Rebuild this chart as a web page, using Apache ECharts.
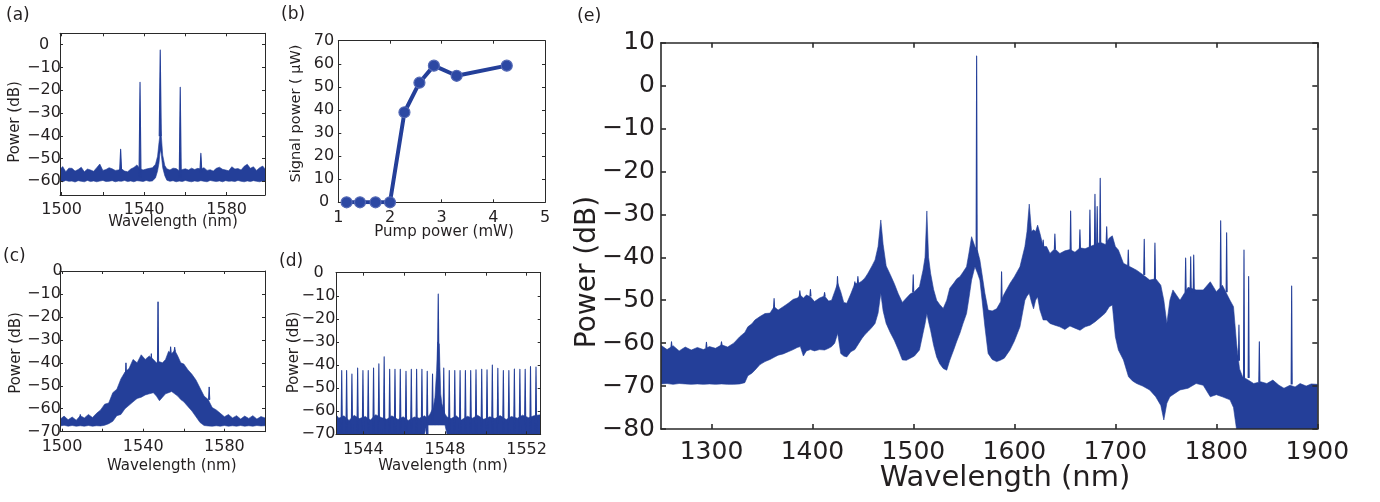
<!DOCTYPE html>
<html><head><meta charset="utf-8">
<script src="https://cdn.jsdelivr.net/npm/echarts@6/dist/echarts.min.js"></script>
<style>html,body{margin:0;padding:0;background:#fff}#c{width:1380px;height:502px}</style>
</head><body><div id="c"></div>
<script>
// ---------- DATA ----------
// (a) three-line spectrum: noise band envelope + discrete lines
const aWl = [1499,1500.5,1502,1503.5,1505,1506.5,1508,1509.5,1511,1512.5,1514,1515.5,1517,1518.5,1520,1521.5,1523,1524.5,1526,1527.5,1529,1530.5,1532,1533.5,1535,1536.5,1538,1539.5,1541,1542.5,1544,1545.5,1546.5,1547.2,1547.6,1548.0,1548.4,1549.0,1550,1551,1552.5,1554,1555.5,1557,1558.5,1560,1561.5,1563,1564.5,1566,1567.5,1569,1570.5,1572,1573.5,1575,1576.5,1578,1579.5,1581,1582.5,1584,1585.5,1587,1588.5,1590,1591.5,1593,1594.5,1596,1597.5,1599];
const aHi = [-55.0,-53.5,-55.8,-54.2,-54.3,-55.5,-54.8,-53.8,-55.8,-54.6,-55.0,-55.6,-54.0,-52.4,-55.2,-54.8,-54.0,-54.5,-55.2,-55.0,-54.5,-55.5,-55.8,-54.6,-53.9,-52.8,-54.5,-55.0,-54.6,-54.3,-54.0,-52.5,-49.0,-43.0,-40.0,-38.0,-41.0,-48.5,-53.0,-54.5,-55.0,-54.2,-54.4,-55.3,-54.8,-54.5,-55.0,-54.2,-54.8,-54.3,-54.6,-54.0,-55.2,-54.9,-55.5,-54.3,-53.8,-54.7,-55.0,-55.4,-53.6,-54.6,-54.4,-55.0,-53.4,-52.5,-54.3,-53.6,-55.2,-54.0,-53.3,-55.0];
const aLo = [-59.8,-60.2,-59.6,-60.0,-59.9,-60.3,-59.7,-60.0,-60.2,-59.6,-60.1,-59.8,-60.2,-59.9,-59.6,-60.1,-60.0,-59.7,-60.2,-59.9,-60.0,-59.6,-60.1,-59.8,-60.2,-59.7,-59.9,-60.1,-59.6,-60.0,-59.8,-58.5,-55.5,-52.0,-48.0,-46.0,-49.0,-54.0,-57.5,-59.5,-60.0,-59.7,-60.2,-59.9,-60.1,-59.6,-60.0,-60.2,-59.8,-60.1,-59.7,-60.0,-60.2,-59.6,-59.9,-60.1,-59.8,-60.2,-59.7,-60.0,-59.9,-60.1,-59.6,-60.0,-60.2,-59.8,-60.1,-59.7,-60.0,-60.2,-59.8,-60.0];
const aLineWl = [1528.6,1538.0,1547.8,1557.5,1567.5];
const aLineBase = [-56,-58,-40,-58,-56];
const aLineTop = [-45.9,-16.5,-2.3,-18.7,-47.7];
const aXTicks = [1500,1520,1540,1560,1580];
const aXLabels = [1500,1540,1580];
const aYTicks = [-60,-50,-40,-30,-20,-10,0];

// (b) signal power vs pump power
const bPump = [1.16,1.42,1.72,2.0,2.28,2.57,2.85,3.29,4.26];
const bSignal = [0,0,0,0,39,51.8,59.2,54.8,59.2];
const bXTicks = [1,2,3,4,5];
const bYTicks = [0,10,20,30,40,50,60,70];

// (c) broadband spectrum envelope
const cWl = [1499.2,1501,1503,1505,1507,1509,1511,1513,1515,1517,1519,1521,1523,1525,1527,1529,1531,1533,1535,1537,1539,1541,1543,1545,1546.5,1548,1549.5,1551,1552.5,1554,1555.5,1557,1558.5,1560,1562,1564,1566,1568,1570,1572,1574,1576,1578,1580,1582,1584,1586,1588,1590,1592,1594,1596,1598,1600];
const cHi = [-64.5,-63.2,-64.8,-63.6,-65.0,-63.0,-64.0,-62.5,-63.8,-62.0,-60.5,-58.0,-57.5,-53.0,-51.5,-47.0,-44.0,-42.5,-38.5,-40.0,-36.5,-38.5,-37.0,-38.5,-40.0,-39.5,-40.0,-38.5,-35.0,-36.0,-34.5,-37.0,-40.0,-40.5,-43.0,-45.0,-47.5,-51.0,-54.5,-56.0,-59.5,-60.5,-62.0,-63.5,-62.5,-64.0,-63.0,-64.5,-63.2,-64.2,-63.0,-64.5,-63.4,-64.0];
const cLo = [-67.5,-67.2,-67.6,-67.3,-67.6,-67.4,-67.6,-67.3,-67.6,-67.4,-67.5,-67.2,-66.5,-65.5,-63.0,-62.5,-60.0,-58.5,-57.0,-55.5,-55.0,-54.0,-53.5,-53.0,-54.5,-56.5,-55.0,-53.5,-53.0,-52.5,-53.5,-54.5,-56.0,-57.0,-59.0,-61.0,-63.5,-66.0,-67.3,-67.5,-67.6,-67.4,-67.6,-67.3,-67.6,-67.4,-67.6,-67.3,-67.6,-67.4,-67.6,-67.3,-67.5,-67.4];
const cLineWl = [1509,1531.5,1544,1547.3,1553.5,1555.5,1572.5];
const cLineBase = [-64,-46,-40,-40,-36,-35,-56];
const cLineTop = [-62.5,-40,-36,-13.4,-33,-33.2,-50.5];
const cXTicks = [1500,1520,1540,1560,1580,1600];
const cXLabels = [1500,1540,1580];
const cYTicks = [-70,-60,-50,-40,-30,-20,-10,0];

// (d) frequency comb: floor envelope + comb lines
const dWl = [1542.66,1542.8,1543.05,1543.3,1543.55,1543.8,1544.1,1544.35,1544.6,1544.9,1545.15,1545.4,1545.7,1545.95,1546.2,1546.5,1546.75,1547.0,1547.1,1547.25,1547.43,1547.51,1547.59,1547.64,1547.72,1547.79,1547.85,1548.0,1548.1,1548.3,1548.55,1548.8,1549.1,1549.35,1549.6,1549.9,1550.2,1550.45,1550.7,1551.0,1551.25,1551.55,1551.8,1552.1,1552.35,1552.69];
const dHi = [-61.5,-63.0,-62.0,-64.0,-61.8,-63.2,-62.3,-63.8,-61.5,-62.8,-63.5,-62.0,-63.6,-62.4,-64.0,-62.5,-63.0,-62.0,-62.8,-61.5,-58.3,-54.0,-42.4,-30.0,-30.9,-52.5,-56.8,-61.2,-62.5,-63.2,-62.0,-63.8,-62.2,-63.0,-61.8,-63.5,-62.4,-63.2,-61.9,-63.6,-62.3,-63.0,-61.7,-62.8,-62.0,-61.5];
const dLo = [-70,-70,-70,-70,-70,-70,-70,-70,-70,-70,-70,-70,-70,-70,-70,-70,-70,-70,-66,-66,-66,-66,-66,-66,-66,-66,-66,-66,-70,-70,-70,-70,-70,-70,-70,-70,-70,-70,-70,-70,-70,-70,-70,-70,-70,-70];
const dCombWl = [1542.66,1542.94,1543.18,1543.44,1543.72,1543.98,1544.24,1544.50,1544.76,1545.02,1545.29,1545.55,1545.81,1546.09,1546.35,1546.61,1546.87,1547.13,1547.39,1547.67,1547.94,1548.21,1548.48,1548.74,1549.00,1549.26,1549.52,1549.80,1550.06,1550.32,1550.59,1550.86,1551.13,1551.40,1551.67,1551.93,1552.19,1552.46];
const dCombTop = [-42.1,-42.4,-42.4,-43.9,-41.3,-42.4,-42.4,-41.3,-39.5,-36.4,-41.8,-41.8,-41.8,-42.7,-41.8,-41.8,-41.8,-42.7,-43.9,-9.2,-41.3,-42.4,-42.4,-42.4,-42.4,-42.4,-42.1,-41.8,-42.1,-40.0,-41.4,-42.4,-42.4,-41.7,-41.8,-41.8,-40.7,-40.9];
const dCombBase = [-70,-70,-70,-70,-70,-70,-70,-70,-70,-70,-70,-70,-70,-70,-70,-70,-70,-70,-64,-40,-64,-70,-70,-70,-70,-70,-70,-70,-70,-70,-70,-70,-70,-70,-70,-70,-70,-70];
const dXTicks = [1544,1546,1548,1550,1552];
const dXLabels = [1544,1548,1552];
const dYTicks = [-70,-60,-50,-40,-30,-20,-10,0];

// (e) spectrum envelope + narrow lines
const eWl = [1250,1256,1262,1268,1274,1280,1286,1292,1298,1304,1310,1316,1322,1328,1333,1336,1340,1343,1348,1353,1358,1362,1366,1371,1376,1381,1385,1388,1391,1394,1398,1402,1407,1412,1416,1419,1422,1425,1428,1431,1434,1438,1442,1446,1449,1452,1455,1459,1462,1465,1467.7,1470,1473,1477,1481,1485,1489,1493,1497,1501,1506,1509.5,1511.5,1513.3,1515,1517,1520,1523,1526,1529.5,1533,1536,1540,1543,1546,1549,1552.6,1555,1557.6,1560.9,1563.5,1565.8,1568,1570.8,1574,1578,1582.4,1586,1590,1595.6,1600,1605.5,1610.4,1612.5,1614.7,1617,1619,1621,1623,1625.3,1628.5,1631.9,1635.2,1640,1645,1650,1655,1660,1665,1670,1675,1680,1685,1690,1694,1697,1700,1703,1708,1713,1717,1721,1727,1734,1740,1745,1748,1751,1754,1757,1764,1772,1780,1787,1794,1800,1806,1813.5,1817,1820,1823,1826,1831,1837,1844,1850,1856,1862,1867,1873,1878,1883,1889,1894,1900];
const eHi = [-60.5,-61.5,-60.6,-61.8,-60.9,-61.6,-61.0,-61.5,-60.8,-61.2,-60.4,-60.9,-60.0,-58.5,-57.5,-56.2,-55.5,-54.6,-53.8,-53.1,-53.0,-51.5,-52.3,-51.5,-50.7,-49.8,-49.5,-48.8,-49.5,-48.8,-49.2,-50.3,-49.5,-49.0,-50.2,-50.0,-48.0,-46.0,-48.0,-50.5,-50.7,-48.5,-46.1,-46.0,-45.5,-44.8,-43.7,-42.0,-40.6,-37.5,-31.3,-37.0,-42.0,-44.0,-46.1,-48.5,-50.5,-49.5,-48.5,-48.0,-46.8,-43.0,-40.0,-29.2,-40.0,-43.7,-47.5,-50.0,-51.0,-51.9,-50.0,-47.2,-46.0,-45.0,-44.5,-43.5,-42.2,-39.0,-35.2,-37.5,-38.5,-40.6,-44.0,-48.4,-52.3,-52.5,-52.0,-50.5,-48.5,-46.1,-44.5,-42.2,-37.5,-34.0,-27.6,-34.0,-33.6,-34.0,-32.5,-34.4,-37.5,-37.5,-39.1,-38.0,-39.1,-38.5,-38.2,-38.8,-37.8,-38.0,-37.5,-37.0,-36.5,-37.0,-35.5,-35.0,-37.5,-38.3,-41.4,-42.0,-42.5,-43.0,-44.0,-45.3,-45.0,-46.5,-50.0,-55.4,-50.0,-47.6,-50.0,-47.0,-47.6,-47.6,-45.7,-48.0,-46.5,-50.0,-51.5,-60.0,-66.0,-67.8,-68.5,-69.4,-69.0,-69.4,-68.6,-69.8,-70.5,-69.8,-70.2,-69.4,-70.0,-69.5,-69.6];
const eLo = [-69.5,-69.4,-69.6,-69.4,-69.5,-69.6,-69.5,-69.6,-69.5,-69.6,-69.5,-69.6,-69.6,-69.5,-69.2,-67.6,-67.0,-66.3,-65.0,-64.3,-63.8,-63.3,-62.8,-62.5,-62.0,-61.5,-61.0,-60.8,-63.0,-61.8,-61.5,-61.8,-61.5,-61.6,-61.2,-60.8,-60.0,-57.7,-62.4,-63.0,-63.2,-62.0,-61.5,-60.0,-58.9,-58.0,-57.3,-56.3,-55.4,-53.0,-48.4,-52.5,-55.4,-57.5,-59.3,-61.5,-63.9,-64.0,-63.5,-63.0,-61.6,-57.7,-55.5,-53.1,-55.0,-57.0,-60.5,-63.2,-64.8,-65.9,-66.3,-64.0,-61.5,-59.5,-57.7,-55.5,-53.1,-49.5,-45.3,-42.2,-43.7,-45.3,-50.0,-56.2,-62.4,-63.8,-64.3,-64.0,-63.5,-61.6,-59.5,-56.2,-50.0,-49.0,-48.4,-50.5,-52.0,-50.0,-49.2,-52.3,-54.6,-54.6,-55.4,-55.8,-56.2,-56.8,-56.0,-56.5,-57.0,-56.2,-55.8,-55.0,-54.0,-53.0,-51.5,-51.1,-58.5,-61.6,-63.9,-67.8,-68.8,-69.4,-70.0,-70.9,-72.5,-74.5,-77.9,-74.0,-72.5,-72.0,-70.9,-70.5,-69.4,-69.8,-72.5,-72.0,-72.5,-73.2,-75.0,-80,-80,-80,-80,-80,-80,-80,-80,-80,-80,-80,-80,-80,-80,-80,-80];
const eLineWl = [1260.4,1295,1309.9,1362,1387.5,1398,1412,1424.8,1442,1445,1499.8,1562.6,1587.3,1628.5,1640.1,1655.7,1664.9,1674.8,1679.8,1682,1685,1691.4,1712.8,1728.6,1739.2,1769.6,1774.6,1777.6,1804.3,1810.2,1822.4,1827.4,1832,1842.6,1874.6];
const eLineBase = [-61,-61,-60.5,-52,-49,-49,-49,-47,-46.5,-46,-48,-39,-50,-37.5,-38,-38.5,-38,-37.5,-37,-37,-36.5,-36.5,-42,-44,-45,-48,-48,-48,-47,-48,-64,-68,-68,-69,-69.5];
const eLineTop = [-59.7,-59.8,-59.7,-49.6,-47.8,-47.5,-48.2,-44.5,-45.7,-44.5,-44.1,6.9,-43.4,-36.0,-34.6,-29.2,-33.6,-29.0,-25.3,-28.2,-21.6,-32.9,-38.3,-35.8,-36.7,-40.2,-39.9,-39.5,-31.5,-34.3,-55.8,-38.3,-44.5,-59.7,-46.7];
const eXTicks = [1300,1400,1500,1600,1700,1800,1900];
const eYTicks = [-80,-70,-60,-50,-40,-30,-20,-10,0,10];

// ---------- STYLE / LAYOUT ----------
const BLUE = '#243f99';
const TXT = '#231f20';
const AX = '#2a2a2a';
const FONT = 'DejaVu Sans';
const SFS = 16;   // small-panel tick font
const EFS = 25;   // panel (e) tick font
const grids = [
  {left:60, top:33.3, width:205, height:161.7},
  {left:338.3, top:40.7, width:206.7, height:161.6},
  {left:60, top:271, width:205, height:160.7},
  {left:336, top:272.7, width:204.7, height:161.6},
  {left:661, top:42.7, width:656.3, height:386.3}
];
const minus = v => String(v).replace('-', '\u2212');

const xAxes = [], yAxes = [];
function addAxes(kind, gi, o) {
  const line = {show:true, onZero:false, lineStyle:{color:AX, width:o.lw}};
  const tick = {show:true, inside:true, length:o.tl, customValues:o.ticks, lineStyle:{color:AX, width:o.lw}};
  const main = {type:'value', gridIndex:gi, min:o.min, max:o.max, z:3,
    position: kind === 'x' ? 'bottom' : 'left',
    axisLine: line, splitLine:{show:false}, axisTick: tick,
    axisLabel:{show:true, customValues:o.labels, formatter:o.fmt || minus, color:TXT,
      fontFamily:FONT, fontSize:o.fs, margin:o.margin, rich:o.rich || {}}};
  if (o.align) main.axisLabel.align = o.align;
  const mirror = {type:'value', gridIndex:gi, min:o.min, max:o.max, z:3,
    position: kind === 'x' ? 'top' : 'right',
    axisLine: line, splitLine:{show:false}, axisTick: tick, axisLabel:{show:false}};
  const arr = kind === 'x' ? xAxes : yAxes;
  arr.push(main, mirror);
}
// (a)
addAxes('x', 0, {min:1499.2, max:1598.6, ticks:aXTicks, labels:aXLabels, fs:SFS, margin:6.5, lw:1, tl:3});
addAxes('y', 0, {min:-66, max:5, ticks:aYTicks, labels:aYTicks, fs:SFS, margin:16, align:'center', lw:1, tl:3});
// (b)
addAxes('x', 1, {min:1, max:5, ticks:bXTicks, labels:bXTicks, fs:SFS, margin:7.4, lw:1, tl:3});
addAxes('y', 1, {min:0, max:70, ticks:bYTicks, labels:bYTicks, fs:SFS, margin:14.3, align:'center', lw:1, tl:3});
// (c)
addAxes('x', 2, {min:1499, max:1600, ticks:cXTicks, labels:cXLabels, fs:SFS, margin:6.8, lw:1, tl:3});
addAxes('y', 2, {min:-70, max:0, ticks:cYTicks, labels:cYTicks, fs:SFS, margin:16, align:'center', lw:1, tl:3,
  fmt: v => v === 0 ? '{z|0}' : minus(v),
  rich:{z:{padding:[0,0,0,27], fontFamily:FONT, fontSize:SFS, color:TXT}}});
// (d)
addAxes('x', 3, {min:1542.66, max:1552.69, ticks:dXTicks, labels:dXLabels, fs:SFS, margin:7.7, lw:1, tl:3});
addAxes('y', 3, {min:-70, max:0, ticks:dYTicks, labels:dYTicks, fs:SFS, margin:17.5, align:'center', lw:1, tl:3});
// (e)
addAxes('x', 4, {min:1250, max:1900, ticks:eXTicks, labels:eXTicks, fs:EFS, margin:10.5, lw:1.6, tl:5});
addAxes('y', 4, {min:-80, max:10, ticks:eYTicks, labels:eYTicks, fs:EFS, margin:6, lw:1.6, tl:5});

function band(gi, wl, hi, lo) {
  return {type:'custom', xAxisIndex:2*gi, yAxisIndex:2*gi, clip:true, z:2, silent:true,
    data: wl.map((w, i) => [w, lo[i], hi[i]]),
    encode:{x:0, y:[1,2]},
    renderItem:(params, api) => {
      if (params.dataIndexInside !== 0) return null;
      const n = params.dataInsideLength;
      const pts = [];
      for (let i = 0; i < n; i++) pts.push(api.coord([api.value(0, i), api.value(2, i)]));
      for (let i = n - 1; i >= 0; i--) pts.push(api.coord([api.value(0, i), api.value(1, i)]));
      return {type:'polygon', shape:{points:pts}, style:{fill:BLUE, stroke:BLUE, lineWidth:0.6}};
    }};
}
function lines(gi, wl, base, top, hw, lw) {
  return {type:'custom', xAxisIndex:2*gi, yAxisIndex:2*gi, clip:true, z:2, silent:true,
    data: wl.map((w, i) => [w, base[i], top[i]]),
    encode:{x:0, y:[1,2]},
    renderItem:(params, api) => {
      const a = api.coord([api.value(0), api.value(1)]);
      const b = api.coord([api.value(0), api.value(2)]);
      return {type:'polygon', shape:{points:[[a[0]-hw, a[1]], [b[0], b[1]], [a[0]+hw, a[1]]]},
        style:{fill:BLUE, stroke:BLUE, lineWidth:lw, lineJoin:'round'}};
    }};
}

const series = [
  band(0, aWl, aHi, aLo),
  lines(0, aLineWl, aLineBase, aLineTop, 1.0, 1.1),
  {type:'line', xAxisIndex:2, yAxisIndex:2, z:5, data: bPump.map((p, i) => [p, bSignal[i]]),
    symbol:'circle', symbolSize:11, lineStyle:{color:BLUE, width:4},
    itemStyle:{color:'#2c48a3', borderColor:'#5469b5', borderWidth:1.2}},
  band(2, cWl, cHi, cLo),
  lines(2, cLineWl, cLineBase, cLineTop, 0.6, 1.0),
  band(3, dWl, dHi, dLo),
  lines(3, dCombWl, dCombBase, dCombTop, 0.7, 1.1),
  band(4, eWl, eHi, eLo),
  lines(4, eLineWl, eLineBase, eLineTop, 0.5, 1.1)
];

function txt(t, x, y, size, rot, align) {
  return {type:'text', x:x, y:y, rotation: rot || 0, z:10,
    style:{text:t, fill:TXT, font: size + 'px "' + FONT + '"',
      textAlign: align || 'center', textVerticalAlign:'middle'}};
}
const R = Math.PI / 2;
const graphics = [
  txt('(a)', 6, 16, 17, 0, 'left'),
  txt('(b)', 281, 15, 17, 0, 'left'),
  txt('(c)', 3, 257, 17, 0, 'left'),
  txt('(d)', 279, 262, 17, 0, 'left'),
  txt('(e)', 577, 16, 17.5, 0, 'left'),
  txt('Power (dB)', 15, 122, 15, R),
  txt('Wavelength (nm)', 173, 222, 15),
  txt('Signal power ( \u03bcW)', 296, 113.5, 14.5, R),
  txt('Pump power (mW)', 444, 232, 15),
  txt('Power (dB)', 16.5, 353, 15, R),
  txt('Wavelength (nm)', 171.7, 466, 15),
  txt('Power (dB)', 294, 352.5, 15, R),
  txt('Wavelength (nm)', 443, 466, 15),
  txt('Power (dB)', 588, 272, 28, R),
  txt('Wavelength (nm)', 1005, 478, 29)
];

const chart = echarts.init(document.getElementById('c'), null, {renderer:'canvas'});
chart.setOption({
  animation:false,
  backgroundColor:'#ffffff',
  grid: grids,
  xAxis: xAxes,
  yAxis: yAxes,
  series: series,
  graphic: graphics
});
</script></body></html>
